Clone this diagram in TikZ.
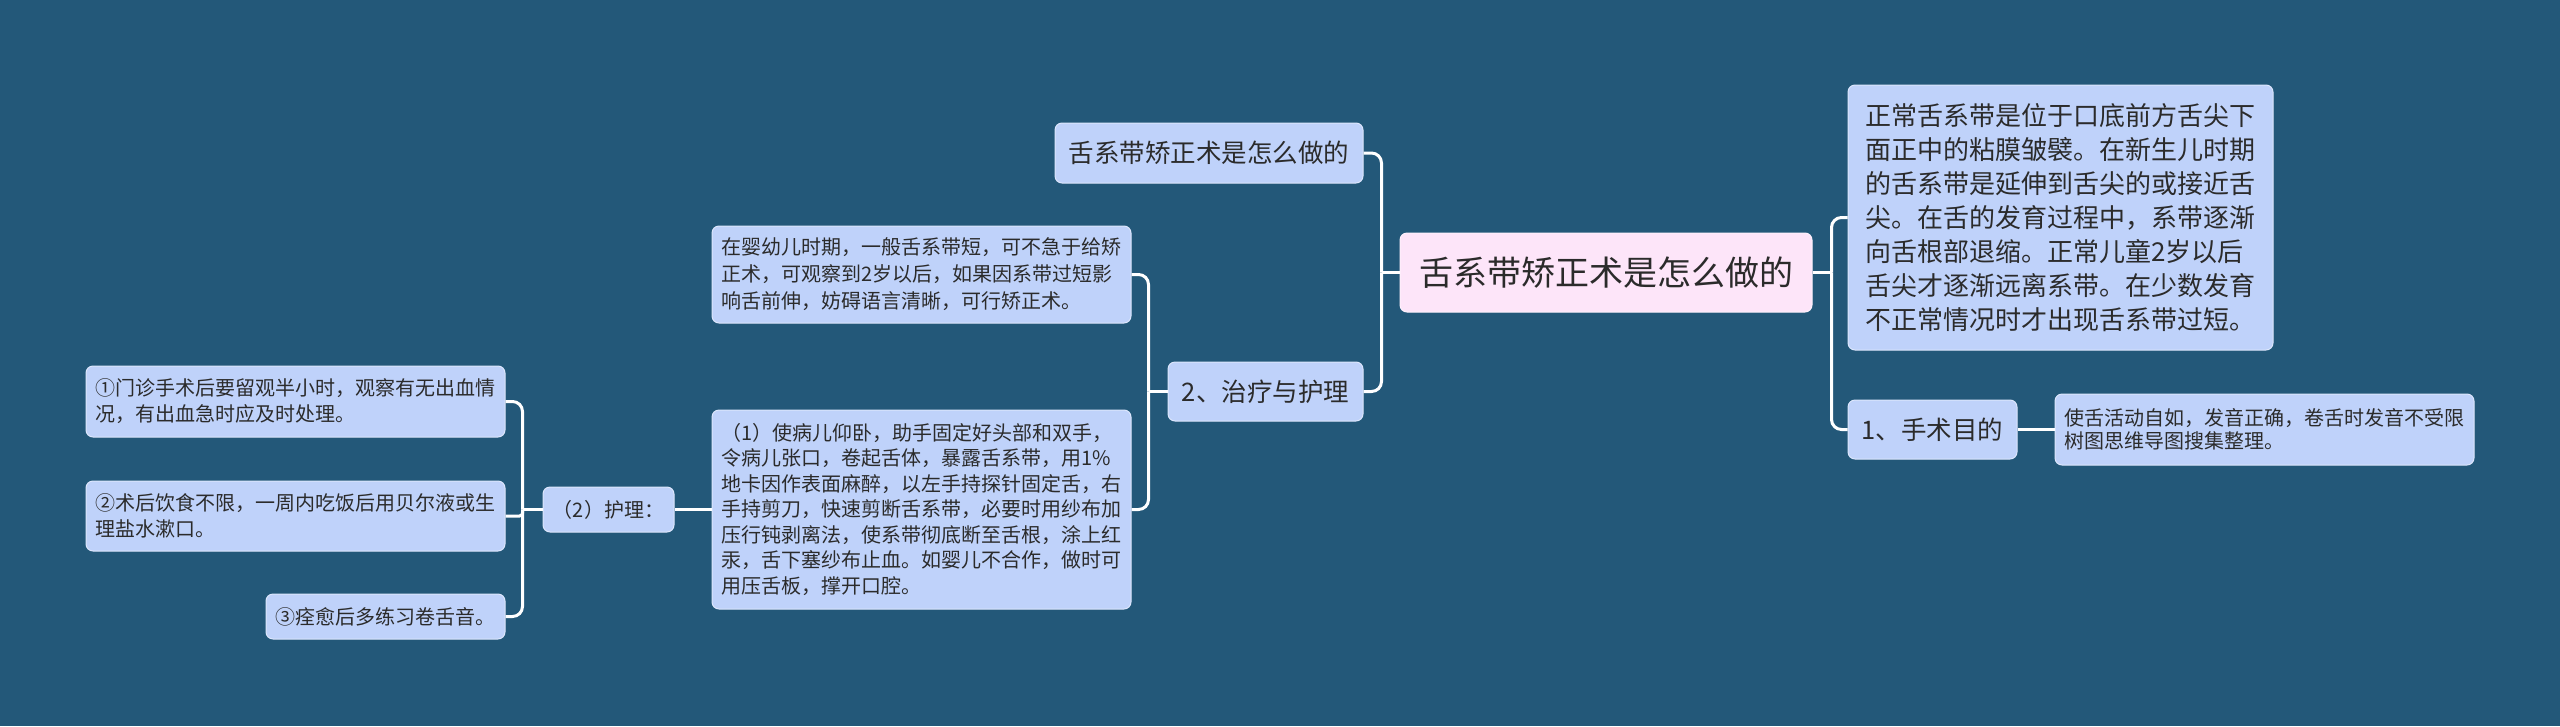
\documentclass[tikz,border=0pt]{standalone}
\usepackage{fontspec}
\usepackage{tikz}
\newfontfamily\cjk{Noto Sans CJK SC}
\definecolor{bgblue}{HTML}{235879}
\definecolor{topicblue}{HTML}{BFD2FA}
\definecolor{rootpink}{HTML}{FDE5F9}
\definecolor{inkgray}{HTML}{2B2B2B}

\begin{document}
\begin{tikzpicture}[x=1pt,y=-1pt,
  box/.style={rectangle,rounded corners=7pt,fill=topicblue,draw=white!45!topicblue,
    line width=1pt,text=inkgray,inner sep=0pt,align=left},
  rootbox/.style={box,fill=rootpink,draw=white!45!rootpink,font=\cjk\fontsize{34}{40}\selectfont},
  big/.style={box,font=\cjk\fontsize{25.5}{30}\selectfont},
  small/.style={box,font=\cjk\fontsize{20}{24}\selectfont},
  link/.style={draw=white,line width=3pt,rounded corners=10pt}]
  \useasboundingbox (0,0) rectangle (2560,726);
  \fill[bgblue] (0,0) rectangle (2560,726);

  % centre and right branch
  \node[rootbox,minimum width=412pt,minimum height=79pt] (root) at (1606,272.5) {舌系带矫正术是怎么做的};
  \node[big,font=\cjk\fontsize{26}{34}\selectfont,minimum width=425pt,minimum height=265pt] (desc) at (2060.5,217.5)
    {正常舌系带是位于口底前方舌尖下\\
     面正中的粘膜皱襞。在新生儿时期\\
     的舌系带是延伸到舌尖的或接近舌\\
     尖。在舌的发育过程中，系带逐渐\\
     向舌根部退缩。正常儿童2岁以后\\
     舌尖才逐渐远离系带。在少数发育\\
     不正常情况时才出现舌系带过短。};
  \node[big,minimum width=169pt,minimum height=59pt] (aim) at (1932.5,429.5) {1、手术目的};
  \node[small,font=\cjk\fontsize{20}{23}\selectfont,minimum width=419pt,minimum height=71pt] (aimnote) at (2264.5,429.5)
    {使舌活动自如，发音正确，卷舌时发音不受限\\
     树图思维导图搜集整理。};

  % left branch
  \node[big,minimum width=308pt,minimum height=60pt] (title) at (1209,153) {舌系带矫正术是怎么做的};
  \node[big,minimum width=195pt,minimum height=59pt] (treat) at (1265.5,391.5) {2、治疗与护理};
  \node[small,font=\cjk\fontsize{20}{27}\selectfont,minimum width=419pt,minimum height=97pt] (infant) at (921.5,274.5)
    {在婴幼儿时期，一般舌系带短，可不急于给矫\\
     正术，可观察到2岁以后，如果因系带过短影\\
     响舌前伸，妨碍语言清晰，可行矫正术。};
  \node[small,font=\cjk\fontsize{20}{25.5}\selectfont,minimum width=419pt,minimum height=199pt] (steps) at (921.5,509.5)
    {（1）使病儿仰卧，助手固定好头部和双手，\\
     令病儿张口，卷起舌体，暴露舌系带，用1\%\\
     地卡因作表面麻醉，以左手持探针固定舌，右\\
     手持剪刀，快速剪断舌系带，必要时用纱布加\\
     压行钝剥离法，使系带彻底断至舌根，涂上红\\
     汞，舌下塞纱布止血。如婴儿不合作，做时可\\
     用压舌板，撑开口腔。};
  \node[small,minimum width=131pt,minimum height=45pt] (care) at (608.5,509.5) {（2）护理：};
  \node[small,font=\cjk\fontsize{20}{26}\selectfont,minimum width=419pt,minimum height=71pt] (careA) at (295.5,401.5)
    {①门诊手术后要留观半小时，观察有无出血情\\
     况，有出血急时应及时处理。};
  \node[small,font=\cjk\fontsize{20}{26}\selectfont,minimum width=419pt,minimum height=70pt] (careB) at (295.5,516)
    {②术后饮食不限，一周内吃饭后用贝尔液或生\\
     理盐水漱口。};
  \node[small,minimum width=239pt,minimum height=45pt] (careC) at (385.5,616.5) {③痊愈后多练习卷舌音。};

  % connectors
  \draw[link] (root.east) -- ++(19,0) coordinate (rj);
  \draw[link] (rj) |- (desc.west);
  \draw[link] (rj) |- (aim.west);
  \draw[link] (aim) -- (aimnote);
  \draw[link] (root.west) -- ++(-18,0) coordinate (lj);
  \draw[link] (lj) |- (title.east);
  \draw[link] (lj) |- (treat.east);
  \draw[link] (treat.west) -- ++(-19,0) coordinate (tj);
  \draw[link] (tj) |- (infant.east);
  \draw[link] (tj) |- (steps.east);
  \draw[link] (steps) -- (care);
  \draw[link] (care.west) -- ++(-20,0) coordinate (cj);
  \draw[link] (cj) |- (careA.east);
  \draw[link,rounded corners=3pt] (cj) |- (careB.east);
  \draw[link] (cj) |- (careC.east);
\end{tikzpicture}
\end{document}
